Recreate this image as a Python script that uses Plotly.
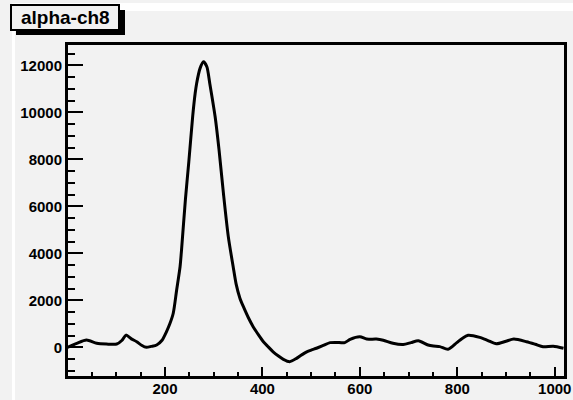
import plotly.graph_objects as go

# Channel spectrum for alpha-ch8
channel = [0, 19, 39, 60, 80, 101, 112, 120, 131, 142, 152, 162, 172, 183, 194,
           203, 210, 217, 224, 231, 234, 242, 249, 257, 262, 265, 272, 279, 286,
           292, 303, 311, 320, 330, 340, 346, 354, 361, 371, 381, 392, 402, 412,
           422, 433, 443, 456, 470, 480, 491, 501, 511, 525, 539, 552, 569, 580,
           600, 614, 634, 648, 668, 689, 705, 720, 740, 751, 764, 781,
           799, 810, 822, 846, 862, 880, 900, 916, 942, 960, 976, 997, 1018]
counts = [0, 170, 310, 170, 140, 140, 300, 520, 360, 240, 90, 0, 40, 100, 300,
          660, 1000, 1450, 2440, 3430, 4140, 6300, 7900, 9850, 10810, 11230,
          11870, 12150, 11940, 11230, 9810, 8400, 6550, 4710, 3430, 2700, 2080,
          1730, 1270, 880, 530, 240, 20, -190, -370, -510, -610, -470, -330,
          -190, -110, -40, 80, 200, 210, 200, 340, 450, 350, 350, 300,
          170, 120, 200, 280, 100, 55, 30, -85, 200, 380, 510, 425, 300, 150,
          260, 350, 240, 130, 25, 45, -40]

x_range = [1, 1019]
y_range = [-1220, 12865]

W, H = 573, 400
ML, MR, MT, MB = 68, 9, 45, 24
BG = "#f2f2f2"


def px_x(p):
    return (p - ML) / (W - ML - MR)


def px_y(p):
    return (H - MB - p) / (H - MT - MB)


fig = go.Figure()
fig.add_trace(go.Scatter(
    x=channel, y=counts, mode="lines",
    line=dict(color="black", width=3, shape="spline", smoothing=0.7),
    showlegend=False, hoverinfo="skip",
))

tick_font = dict(family="Liberation Sans, Arial, Helvetica, sans-serif",
                 size=15, color="black", weight="bold")

fig.update_xaxes(
    range=x_range, showgrid=False, zeroline=False, automargin=False,
    showline=True, linecolor="black", linewidth=3, mirror=True,
    ticks="inside", tick0=0, dtick=200, ticklen=9, tickwidth=2,
    tickcolor="black", tickfont=tick_font, ticklabelstandoff=-3,
    tickformat="d",
    minor=dict(ticks="inside", dtick=50, ticklen=4, tickwidth=2,
               tickcolor="black", showgrid=False),
)
fig.update_yaxes(
    range=y_range, showgrid=False, zeroline=False, automargin=False,
    showline=True, linecolor="black", linewidth=3, mirror=True,
    ticks="inside", tick0=0, dtick=2000, ticklen=15, tickwidth=2,
    tickcolor="black", tickfont=tick_font, ticklabelstandoff=0,
    tickformat="d",
    minor=dict(ticks="inside", dtick=500, ticklen=7, tickwidth=2,
               tickcolor="black", showgrid=False),
)

shapes = [
    # pad highlight edges
    dict(type="rect", xref="paper", yref="paper",
         x0=px_x(12), x1=px_x(15), y0=px_y(400), y1=px_y(3),
         fillcolor="white", line=dict(width=0), layer="below"),
    dict(type="rect", xref="paper", yref="paper",
         x0=px_x(12), x1=px_x(573), y0=px_y(11), y1=px_y(3),
         fillcolor="white", line=dict(width=0), layer="below"),
    # title box shadow
    dict(type="rect", xref="paper", yref="paper",
         x0=px_x(16), x1=px_x(125), y0=px_y(35), y1=px_y(10),
         fillcolor="black", line=dict(width=0)),
    # title box
    dict(type="rect", xref="paper", yref="paper",
         x0=px_x(11), x1=px_x(119), y0=px_y(30), y1=px_y(5),
         fillcolor=BG, line=dict(color="black", width=2)),
]

fig.update_layout(
    width=W, height=H,
    margin=dict(l=ML, r=MR, t=MT, b=MB, autoexpand=False),
    paper_bgcolor=BG, plot_bgcolor=BG,
    shapes=shapes,
    annotations=[dict(
        text="alpha-ch8", xref="paper", yref="paper",
        x=px_x(65), y=px_y(17.5), xanchor="center", yanchor="middle",
        showarrow=False,
        font=dict(family="Liberation Sans, Arial, Helvetica, sans-serif",
                  size=19, color="black", weight="bold"),
    )],
)

fig.write_html("out.html")
